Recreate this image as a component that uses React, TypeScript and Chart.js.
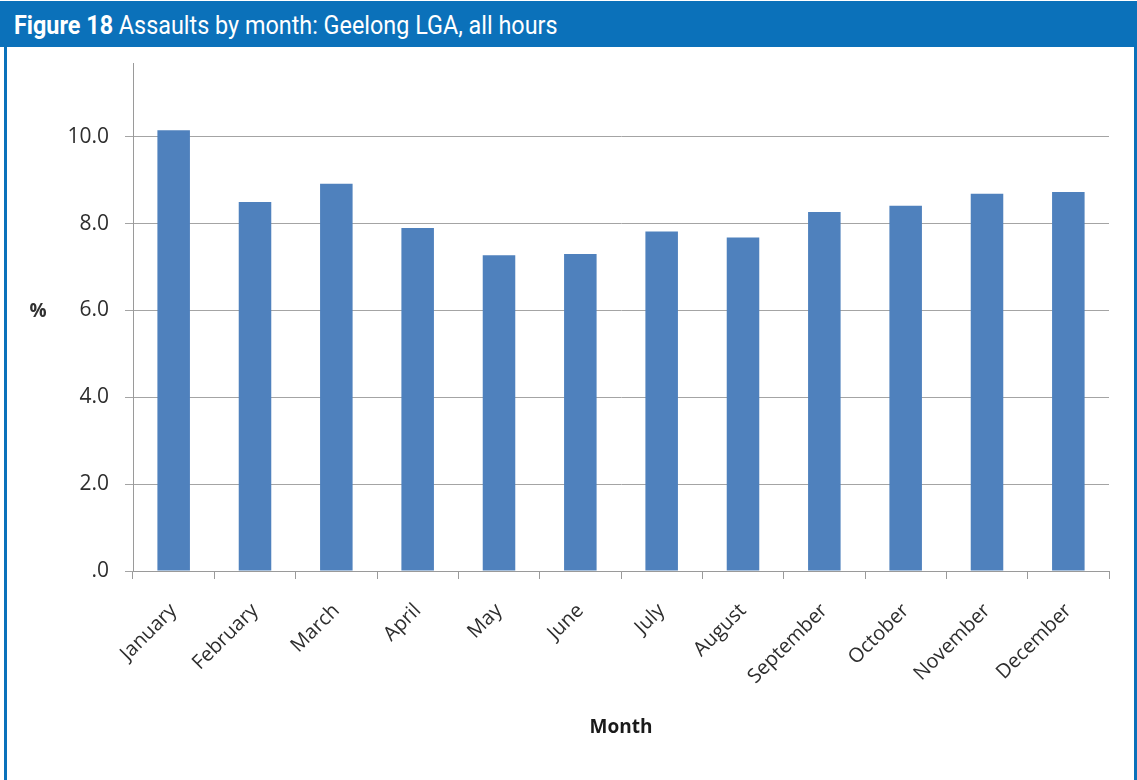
import React, { useEffect, useRef } from "react";
import { Chart, registerables } from "chart.js";

Chart.register(...registerables);

const months = [
  "January", "February", "March", "April", "May", "June",
  "July", "August", "September", "October", "November", "December",
];
const assaultPercent = [10.15, 8.5, 8.92, 7.9, 7.27, 7.3, 7.82, 7.68, 8.27, 8.41, 8.69, 8.73];
const yAxisMin = 0;
const yAxisMax = 11.7;
const yTickStep = 2;

const BLUE = "#0b71ba";

const percentLabelPlugin = {
  id: "percentLabel",
  afterDraw(chart: any) {
    const { ctx, chartArea } = chart;
    ctx.save();
    ctx.font = "bold 19px 'Open Sans'";
    ctx.fillStyle = "#303030";
    ctx.textAlign = "center";
    ctx.textBaseline = "middle";
    ctx.fillText("%", 31, (chartArea.top + chartArea.bottom) / 2 - 5);
    ctx.restore();
  },
};

export default function App() {
  const canvasRef = useRef<HTMLCanvasElement | null>(null);

  useEffect(() => {
    document.body.style.margin = "0";
    const canvas = canvasRef.current;
    if (!canvas) return;
    const chart = new Chart(canvas, {
      type: "bar",
      data: {
        labels: months,
        datasets: [
          {
            data: assaultPercent,
            backgroundColor: "#4f81bd",
            borderWidth: 0,
            barPercentage: 0.8,
            categoryPercentage: 0.5,
          },
        ],
      },
      options: {
        responsive: false,
        animation: false,
        layout: { padding: { top: 16, right: 24, bottom: 0, left: 0 } },
        plugins: {
          legend: { display: false },
          tooltip: { enabled: false },
          title: { display: false },
        },
        scales: {
          x: {
            grid: {
              display: true,
              drawOnChartArea: false,
              drawTicks: true,
              tickLength: 8,
              color: "#9a9a9a",
              offset: true,
            },
            border: { display: true, color: "#9a9a9a", width: 1 },
            ticks: {
              autoSkip: false,
              minRotation: 45,
              maxRotation: 45,
              padding: 20,
              color: "#2e2e2e",
              font: { family: "'Open Sans'", size: 20 },
            },
            title: {
              display: true,
              text: "Month",
              color: "#1a1a1a",
              font: { family: "'Open Sans'", size: 19, weight: "bold" },
              padding: { top: 4, bottom: 41 },
            },
            afterFit(scale: any) {
              scale.height = 209;
              scale.paddingLeft = 0;
              scale.paddingRight = 0;
            },
          },
          y: {
            min: yAxisMin,
            max: yAxisMax,
            grid: {
              color: "#a4a4a4",
              drawTicks: true,
              tickLength: 8,
            },
            border: { display: true, color: "#9a9a9a", width: 1 },
            ticks: {
              stepSize: yTickStep,
              includeBounds: false,
              padding: 16,
              color: "#2e2e2e",
              font: { family: "'Open Sans'", size: 21 },
              callback: (v: any) => {
                const n = Number(v);
                return n === 0 ? ".0" : n.toFixed(1);
              },
            },
            afterFit(scale: any) {
              scale.width = 126;
              scale.paddingTop = 0;
              scale.paddingBottom = 0;
            },
          },
        },
      },
      plugins: [percentLabelPlugin],
    });
    return () => chart.destroy();
  }, []);

  return (
    <div
      style={{
        position: "fixed",
        left: 0,
        top: 0,
        width: 1137,
        height: 780,
        background: "#ffffff",
        overflow: "hidden",
      }}
    >
      <div
        style={{
          position: "absolute",
          left: 0,
          top: 1,
          width: 1137,
          height: 46,
          background: BLUE,
          color: "#ffffff",
          fontFamily: "Roboto, 'Liberation Sans', sans-serif",
          fontSize: 25,
          lineHeight: "46px",
          paddingLeft: 14,
          paddingTop: 2,
          boxSizing: "border-box",
          whiteSpace: "nowrap",
        }}
      >
        <span style={{ display: "inline-block", transform: "scaleX(0.935)", transformOrigin: "left center" }}>
          <span style={{ fontWeight: "bold" }}>Figure 18</span> Assaults by month: Geelong LGA, all hours
        </span>
      </div>
      <div style={{ position: "absolute", left: 4, top: 47, width: 3, height: 733, background: BLUE }} />
      <div style={{ position: "absolute", left: 1134, top: 47, width: 3, height: 733, background: BLUE }} />
      <canvas
        ref={canvasRef}
        width={1126}
        height={733}
        style={{ position: "absolute", left: 7, top: 47, width: 1126, height: 733 }}
      />
    </div>
  );
}
